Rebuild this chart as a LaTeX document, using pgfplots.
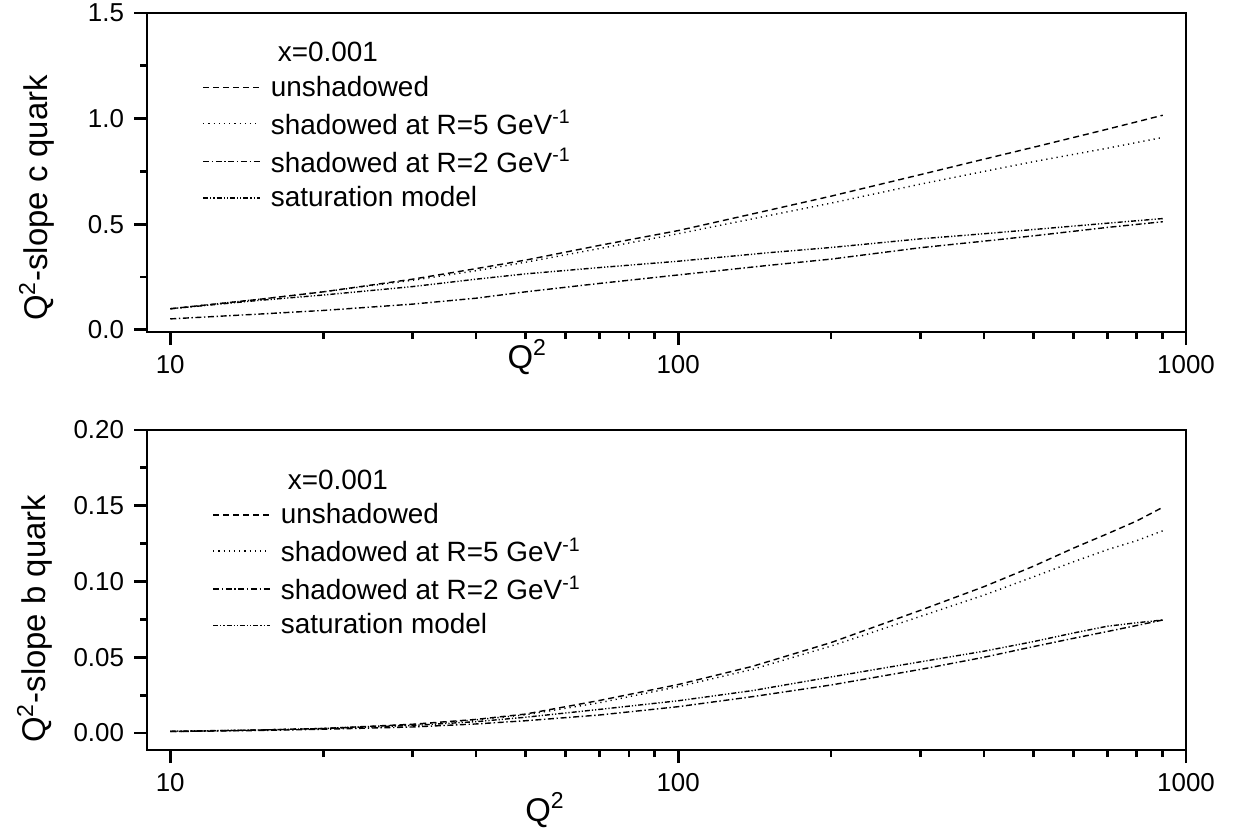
\documentclass[border=0pt]{standalone}
\usepackage{fontspec}
\setmainfont{Liberation Sans}
\usepackage{pgfplots}
\pgfplotsset{compat=1.18}

\pgfplotsset{
  legend image code/.code={\draw[#1] (0bp,0bp) -- (28.5bp,0bp); \path (31.5bp,0bp);},
  slopeaxis/.style={
    scale only axis, width=519.5bp,
    xmin=9, xmax=1000,
    xtick={10,100,1000}, xticklabels={10,100,1000},
    minor xtick={20,30,40,50,60,70,80,90,200,300,400,500,600,700,800,900},
    minor y tick num=1,
    tick align=outside, xtick pos=left, ytick pos=left,
    major tick length=6.5bp, minor tick length=3.5bp,
    tick style={line width=1.4bp, black},
    axis line style={line width=1.4bp},
    tick label style={font=\fontsize{13}{15}\selectfont},
    xticklabel style={yshift=-1.5bp},
    yticklabel style={xshift=-1.5bp},
    /pgf/number format/assume math mode=true,
    label style={font=\fontsize{16.5}{18}\selectfont},
    legend style={draw=none, fill=none, inner sep=0pt, anchor=north west,
      font=\fontsize{14}{16}\selectfont, row sep=1.6bp},
    legend cell align=left,
  },
  unsh/.style={black, line width=0.7bp, dash pattern=on 3bp off 2bp},
  rfive/.style={black, line width=0.7bp, dash pattern=on 0.6bp off 2bp},
  rtwo/.style={black, line width=0.7bp, dash pattern=on 3bp off 1.3bp on 0.7bp off 1.3bp},
  satm/.style={black, line width=0.7bp, dash pattern=on 2.5bp off 1bp on 0.6bp off 1bp on 0.6bp off 1bp},
}

\begin{document}
\begin{tikzpicture}
\useasboundingbox (0bp,0bp) rectangle (618bp,-415bp);

% c quark
\begin{semilogxaxis}[slopeaxis, at={(73.5bp,-166bp)}, anchor=south west, height=159.5bp,
  ymin=-0.01, ymax=1.5, ytick={0,0.5,1,1.5},
  yticklabel style={/pgf/number format/.cd, fixed, fixed zerofill, precision=1},
  xlabel={Q\textsuperscript{2}},
  xlabel style={at={(axis description cs:0.366,-0.078)}, anchor=center},
  ylabel={Q\textsuperscript{2}-slope c quark},
  ylabel style={at={(axis description cs:-0.106,0.42)}, anchor=center},
  legend style={at={(axis description cs:0.053,0.922)}},
]
\addlegendimage{empty legend}
\addlegendentry{\hspace{3.5bp}x=0.001}
\addplot[unsh] coordinates {(10,0.10) (15,0.145) (20,0.18) (30,0.24) (40,0.29) (50,0.33) (70,0.40) (100,0.47) (150,0.565) (200,0.633) (300,0.735) (400,0.808) (500,0.864) (700,0.950) (900,1.016)};
\addlegendentry{unshadowed}
\addplot[rfive] coordinates {(10,0.10) (15,0.145) (20,0.18) (30,0.235) (40,0.28) (50,0.32) (70,0.385) (100,0.455) (150,0.54) (200,0.60) (300,0.69) (400,0.75) (500,0.796) (700,0.86) (900,0.911)};
\addlegendentry{shadowed at R=5 GeV\textsuperscript{-1}}
\addplot[rtwo] coordinates {(10,0.052) (15,0.075) (20,0.092) (30,0.122) (40,0.15) (50,0.18) (70,0.22) (100,0.26) (150,0.305) (200,0.335) (300,0.389) (400,0.42) (500,0.445) (700,0.485) (900,0.512)};
\addlegendentry{shadowed at R=2 GeV\textsuperscript{-1}}
\addplot[satm] coordinates {(10,0.10) (15,0.14) (20,0.165) (30,0.205) (40,0.24) (50,0.265) (70,0.295) (100,0.325) (150,0.365) (200,0.39) (300,0.431) (400,0.455) (500,0.475) (700,0.505) (900,0.527)};
\addlegendentry{saturation model}
\end{semilogxaxis}

% b quark
\begin{semilogxaxis}[slopeaxis, at={(73.5bp,-375bp)}, anchor=south west, height=160bp,
  ymin=-0.0112, ymax=0.2, ytick={0,0.05,0.1,0.15,0.2},
  yticklabel style={/pgf/number format/.cd, fixed, fixed zerofill, precision=2},
  xlabel={Q\textsuperscript{2}},
  xlabel style={at={(axis description cs:0.383,-0.1875)}, anchor=center},
  ylabel={Q\textsuperscript{2}-slope b quark},
  ylabel style={at={(axis description cs:-0.108,0.41)}, anchor=center},
  legend style={at={(axis description cs:0.0626,0.89)}},
]
\addlegendimage{empty legend}
\addlegendentry{\hspace{3.5bp}x=0.001}
\addplot[unsh] coordinates {(10,0.001) (15,0.002) (20,0.003) (30,0.0058) (40,0.009) (50,0.0125) (70,0.0215) (100,0.032) (140,0.044) (200,0.0597) (300,0.081) (400,0.0966) (500,0.110) (600,0.122) (700,0.1315) (800,0.140) (900,0.149)};
\addlegendentry{unshadowed}
\addplot[rfive] coordinates {(10,0.001) (15,0.002) (20,0.003) (30,0.0056) (40,0.0087) (50,0.012) (70,0.020) (100,0.0306) (140,0.042) (200,0.0574) (300,0.077) (400,0.091) (500,0.103) (600,0.113) (700,0.121) (800,0.127) (900,0.1335)};
\addlegendentry{shadowed at R=5 GeV\textsuperscript{-1}}
\addplot[rtwo] coordinates {(10,0.0010) (15,0.0017) (20,0.0025) (30,0.004) (40,0.006) (50,0.0081) (70,0.0119) (100,0.0174) (140,0.024) (200,0.0317) (300,0.042) (400,0.050) (500,0.057) (600,0.0625) (700,0.067) (800,0.071) (900,0.0746)};
\addlegendentry{shadowed at R=2 GeV\textsuperscript{-1}}
\addplot[satm] coordinates {(10,0.0012) (15,0.002) (20,0.003) (30,0.005) (40,0.0075) (50,0.0104) (70,0.0156) (100,0.0213) (140,0.028) (200,0.037) (300,0.047) (400,0.054) (500,0.0603) (600,0.066) (700,0.0705) (800,0.0728) (900,0.0746)};
\addlegendentry{saturation model}
\end{semilogxaxis}
\end{tikzpicture}
\end{document}
